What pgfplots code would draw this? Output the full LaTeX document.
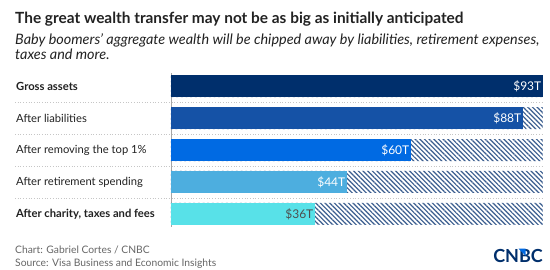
\documentclass[border=0pt]{standalone}
\usepackage{pgfplots}
\pgfplotsset{compat=1.18}
\usepackage{fontspec}
\setmainfont{Lato}
\usetikzlibrary{patterns.meta}
\definecolor{c1}{HTML}{002F6C}
\definecolor{c2}{HTML}{1552A6}
\definecolor{c3}{HTML}{006AE3}
\definecolor{c4}{HTML}{4DAEDF}
\definecolor{c5}{HTML}{58E1E8}
\definecolor{hatch}{HTML}{3A5D8F}
\definecolor{txt}{HTML}{222222}
\definecolor{foot}{HTML}{666666}
\pgfplotsset{mybar/.style={xbar, bar width=22pt, bar shift=0pt, draw=none, fill=#1,
  nodes near coords={\$\pgfmathprintnumber{\pgfplotspointmeta}T},
  nodes near coords align={anchor=east},
  every node near coord/.append style={anchor=east, text=white, inner sep=1.5pt, font=\fontsize{12}{12}\selectfont}}}
\begin{document}
\begin{tikzpicture}
\path[use as bounding box, fill=white] (0,0) rectangle (550pt,-270pt);
\node[anchor=base west, inner sep=0pt, font=\bfseries\fontsize{15.4}{17}\selectfont, text=txt] at (15pt,-24pt) {The great wealth transfer may not be as big as initially anticipated};
\node[anchor=base west, inner sep=0pt, font=\itshape\fontsize{14.4}{16}\selectfont, text=txt] at (15pt,-45pt) {Baby boomers' aggregate wealth will be chipped away by liabilities, retirement expenses,};
\node[anchor=base west, inner sep=0pt, font=\itshape\fontsize{14.4}{16}\selectfont, text=txt] at (15pt,-60pt) {taxes and more.};
\begin{axis}[
  at={(171pt,-70pt)}, anchor=north west,
  scale only axis, width=372pt, height=160pt,
  xmin=0, xmax=93, ymin=-0.5, ymax=4.5, y dir=reverse,
  axis line style={draw=none}, xtick=\empty,
  ytick={0,1,2,3,4}, major tick length=0pt,
  yticklabels={\textbf{Gross assets}, After liabilities, After removing the top 1\%, After retirement spending, \textbf{After charity, taxes and fees}},
  yticklabel style={anchor=west, xshift=-155pt, inner sep=0pt, text=txt, font=\fontsize{11.2}{13}\selectfont},
  /pgf/number format/assume math mode=true,
  clip=false,
]
\draw[gray!70, line width=0.6pt] (axis cs:0,-0.4) -- (axis cs:0,4.4);
\addplot[xbar, bar width=22pt, bar shift=0pt, draw=none, pattern={Lines[angle=-45,distance=3.3pt,line width=1.2pt]}, pattern color=hatch] coordinates {(93,0) (93,1) (93,2) (93,3) (93,4)};
\addplot[mybar=c1] coordinates {(93,0)};
\addplot[mybar=c2] coordinates {(88,1)};
\addplot[mybar=c3] coordinates {(60,2)};
\addplot[mybar=c4] coordinates {(44,3)};
\addplot[mybar=c5, every node near coord/.append style={text=txt!80}] coordinates {(36,4)};
\foreach \yy in {0.5,1.5,2.5,3.5}{
  \edef\tmp{\noexpand\draw[gray!45, dotted, line width=0.7pt] (axis cs:-39,\yy) -- (axis cs:93,\yy);}\tmp
}
\end{axis}
\node[anchor=base west, inner sep=0pt, font=\fontsize{10.3}{12}\selectfont, text=foot] at (15pt,-253pt) {Chart: Gabriel Cortes / CNBC};
\node[anchor=base west, inner sep=0pt, font=\fontsize{10.3}{12}\selectfont, text=foot] at (15pt,-266pt) {Source: Visa Business and Economic Insights};
\node[anchor=base east, inner sep=0pt, font=\bfseries\fontsize{18}{18}\selectfont, text=c1] (logo) at (543pt,-262pt) {CNBC};
\fill[c3] ([xshift=-24.5pt,yshift=0pt]logo.north east) -- ++(7pt,0) -- ++(0,-7pt) -- cycle;
\end{tikzpicture}
\end{document}
